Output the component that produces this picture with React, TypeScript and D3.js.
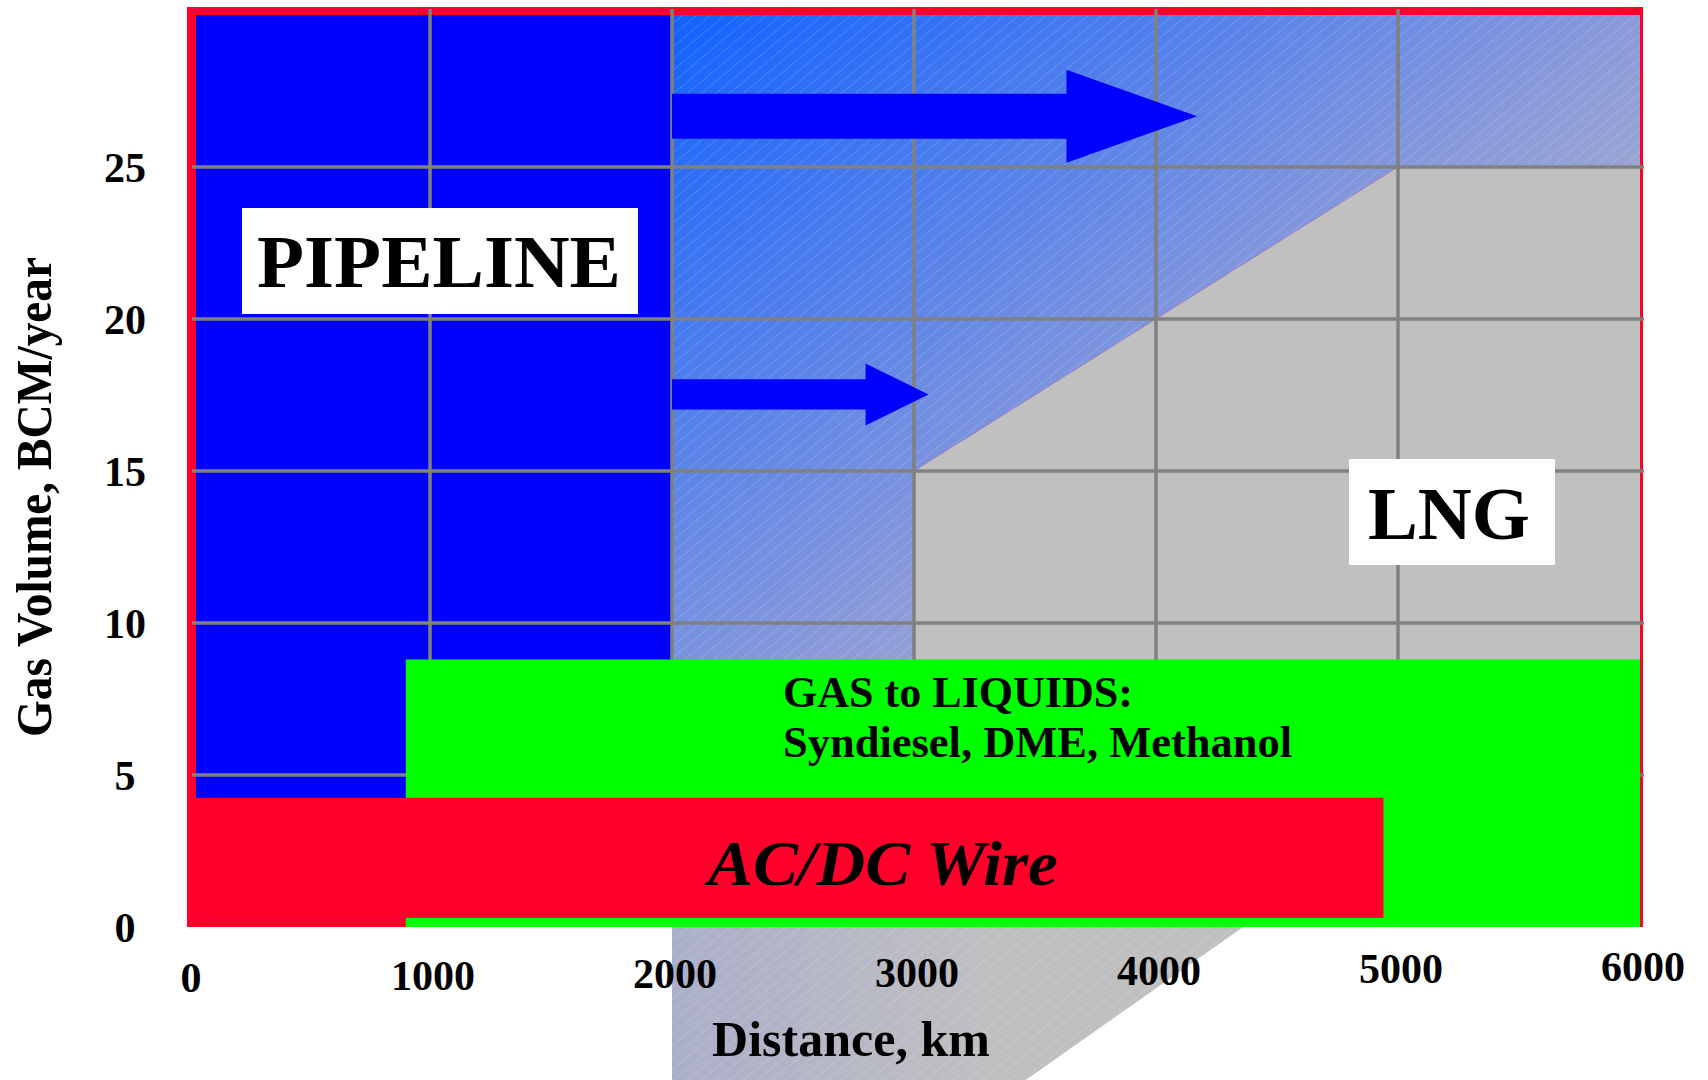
import React from 'react';
import * as d3 from 'd3';

// ---------- data ----------
const xTicks = [0, 1000, 2000, 3000, 4000, 5000, 6000];
const yTicks = [0, 5, 10, 15, 20, 25];
const gridXValues = [1000, 2000, 3000, 4000, 5000];
const gridYValues = [5, 10, 15, 20, 25];

const pipelineKm = [0, 2000];
const pipelineVolume = [0.3, 30];

// LNG / pipeline boundary (km, BCM/year)
const lngBoundaryKm = [3000, 4000, 5000];
const lngBoundaryVolume = [15, 20, 25];

const gtlKm = [900, 6000];
const gtlVolume = [0, 8.8];

const wireKm = [0, 4940];
const wireVolume = [0.3, 4.25];

// shaded continuation below the axis
const shadowTopKm = [2000, 4360];
const shadowBottomKm = [2000, 3450];
const shadowVolume = [0, -5.1];

// arrows: start, head start, tip (km); centre, shaft half, head half (BCM/year)
const arrowStartKm = [2000, 2000];
const arrowHeadKm = [3630, 2800];
const arrowTipKm = [4170, 3060];
const arrowCenterVol = [26.67, 17.52];
const arrowShaftHalf = [0.74, 0.5];
const arrowHeadHalf = [1.53, 1.02];

const FONT = '"Liberation Serif", "Times New Roman", serif';
const RED = '#FF002B';

export default function App() {
  const W = 1708, H = 1080;
  const x = d3.scaleLinear().domain([0, 6000]).range([188, 1640]);
  const y = d3.scaleLinear().domain([0, 30]).range([927, 15]);
  const line = d3.line<[number, number]>().x(d => x(d[0])).y(d => y(d[1]));
  const poly = (pts: [number, number][]) => line(pts) + 'Z';

  const boundary: [number, number][] = lngBoundaryKm.map((k, i) => [k, lngBoundaryVolume[i]]);
  const hatchPts: [number, number][] = [
    [2000, 30], [6000, 30], [6000, 25],
    ...boundary.slice().reverse(),
    [3000, 0], [2000, 0],
  ];
  const lngPts: [number, number][] = [
    ...boundary, [6000, 25], [6000, 0], [3000, 0],
  ];
  const shadowPts: [number, number][] = [
    [shadowTopKm[0], shadowVolume[0]], [shadowTopKm[1], shadowVolume[0]],
    [shadowBottomKm[1], shadowVolume[1]], [shadowBottomKm[0], shadowVolume[1]],
  ];

  const arrows = arrowStartKm.map((s, i) => {
    const c = arrowCenterVol[i], sh = arrowShaftHalf[i], hh = arrowHeadHalf[i], hk = arrowHeadKm[i];
    const pts: [number, number][] = [
      [s, c + sh], [hk, c + sh], [hk, c + hh], [arrowTipKm[i], c],
      [hk, c - hh], [hk, c - sh], [s, c - sh],
    ];
    return poly(pts);
  });

  const innerLeft = 196, innerTop = 15;
  const xTickBaseline = d3.scaleLinear().domain([0, 6000]).range([992, 981]);

  return (
    <svg width={W} height={H} style={{ position: 'absolute', left: 0, top: 0, background: '#fff' }}
      fontFamily={FONT}>
      <defs>
        <linearGradient id="blueGrad" gradientUnits="userSpaceOnUse"
          x1={x(2000)} y1={y(30)} x2={x(2000) + 728} y2={y(30) + 938}>
          <stop offset="0" stopColor="#1262FF" />
          <stop offset="0.5" stopColor="#8A9ADA" />
          <stop offset="0.72" stopColor="#ADB1CA" />
          <stop offset="0.9" stopColor="#C0C0C0" />
        </linearGradient>
        <linearGradient id="shadowGrad" gradientUnits="userSpaceOnUse"
          x1={x(2000)} y1={0} x2={x(4360)} y2={0}>
          <stop offset="0" stopColor="#ABAFC9" />
          <stop offset="0.55" stopColor="#BFBFC1" />
          <stop offset="1" stopColor="#C0C0C0" />
        </linearGradient>
        <pattern id="hatch" width="9" height="9" patternUnits="userSpaceOnUse"
          patternTransform="rotate(50)">
          <line x1="0" y1="0" x2="0" y2="9" stroke="#ffffff" strokeOpacity="0.28" strokeWidth="1" />
        </pattern>
      </defs>

      {/* red frame */}
      <rect x={187} y={7} width={1643 - 187} height={y(0) - 7} fill={RED} />

      {/* pipeline zone */}
      <rect x={innerLeft} y={innerTop} width={x(pipelineKm[1]) - innerLeft}
        height={y(pipelineVolume[0]) - innerTop} fill="#0000FF" />

      {/* LNG grey zone */}
      <path d={poly(lngPts)} fill="#C0C0C0" />

      {/* transition zone */}
      <path d={poly(hatchPts)} fill="url(#blueGrad)" />
      <path d={poly(hatchPts)} fill="url(#hatch)" />

      {/* below-axis shadow */}
      <path d={poly(shadowPts)} fill="url(#shadowGrad)" />
      <path d={poly(shadowPts)} fill="url(#hatch)" />

      {/* gridlines */}
      {gridXValues.map(v => (
        <line key={'gx' + v} x1={x(v)} x2={x(v)} y1={9} y2={y(0)} stroke="#808080" strokeWidth={3.5} />
      ))}
      {gridYValues.map(v => (
        <line key={'gy' + v} x1={192} x2={x(6000) + 4} y1={y(v)} y2={y(v)} stroke="#808080" strokeWidth={3.5} />
      ))}

      {/* arrows */}
      {arrows.map((d, i) => <path key={'a' + i} d={d} fill="#0000FF" />)}

      {/* GTL */}
      <rect x={x(gtlKm[0])} y={y(gtlVolume[1])} width={x(gtlKm[1]) - x(gtlKm[0])}
        height={y(gtlVolume[0]) - y(gtlVolume[1])} fill="#00FF00" />
      {/* AC/DC wire */}
      <rect x={187} y={y(wireVolume[1])} width={x(wireKm[1]) - 187}
        height={y(wireVolume[0]) - y(wireVolume[1])} fill={RED} />

      {/* labels */}
      <rect x={242} y={208} width={396} height={106} fill="#fff" />
      <text x={257} y={287} fontSize={74} fontWeight="bold" textLength={364} lengthAdjust="spacingAndGlyphs">PIPELINE</text>

      <rect x={1349} y={459} width={206} height={106} fill="#fff" />
      <text x={1368} y={539} fontSize={74} fontWeight="bold" textLength={162} lengthAdjust="spacingAndGlyphs">LNG</text>

      <text x={783} y={707} fontSize={44} fontWeight="bold" textLength={350} lengthAdjust="spacingAndGlyphs">GAS to LIQUIDS:</text>
      <text x={783} y={757} fontSize={44} fontWeight="bold" textLength={509} lengthAdjust="spacingAndGlyphs">Syndiesel, DME, Methanol</text>

      <text x={708} y={885} fontSize={64} fontWeight="bold" fontStyle="italic" textLength={350} lengthAdjust="spacingAndGlyphs">AC/DC Wire</text>

      {/* axes tick labels */}
      {xTicks.map(v => (
        <text key={'xt' + v} x={x(v) + 3} y={xTickBaseline(v)} fontSize={42} fontWeight="bold" textAnchor="middle">{v}</text>
      ))}
      {yTicks.map(v => (
        <text key={'yt' + v} x={125} y={y(v) + 15} fontSize={42} fontWeight="bold" textAnchor="middle">{v}</text>
      ))}

      <text x={851} y={1056} fontSize={50} fontWeight="bold" textAnchor="middle">Distance, km</text>
      <text transform="translate(51,497) rotate(-90)" fontSize={50} fontWeight="bold" textAnchor="middle"
        textLength={480} lengthAdjust="spacingAndGlyphs">Gas Volume, BCM/year</text>
    </svg>
  );
}
